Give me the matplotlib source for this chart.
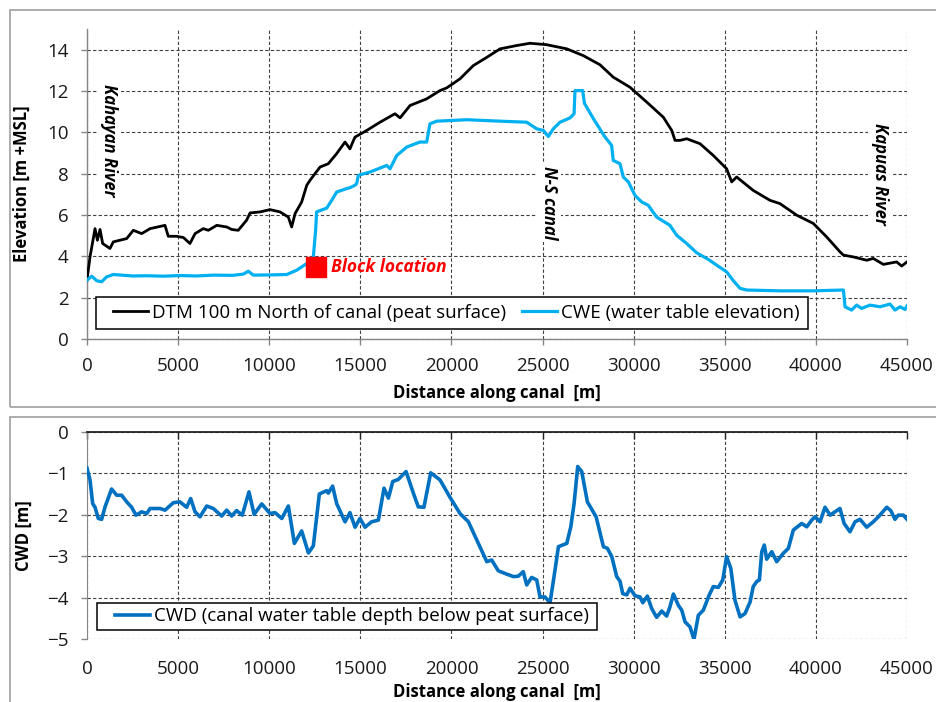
import numpy as np
import matplotlib
matplotlib.use("Agg")
import matplotlib.pyplot as plt
from matplotlib.patches import Rectangle

plt.rcParams['font.family'] = ['Open Sans', 'DejaVu Sans']

# Datos (distancia a lo largo del canal [m])
dtm_x = [0, 165, 440, 570, 715, 860, 1260, 1445, 1810, 2180, 2540, 3000, 3460, 4280, 4460,
         4920, 5290, 5650, 5930, 6380, 6660, 7120, 7670, 7940, 8300, 8760, 8950, 9500, 10040,
         10590, 11050, 11230, 11420, 11780, 12060, 12240, 12510, 12790, 13240, 13700, 14160,
         14430, 14620, 14710, 15350, 16080, 16900, 17180, 17730, 18640, 19370, 19740, 20470,
         21200, 21940, 22670, 23580, 24310, 25230, 26330, 27240, 28150, 28880, 29800, 30720,
         31630, 32090, 32270, 32540, 32910, 33640, 34370, 35100, 35380, 35650, 36560, 37480,
         38030, 38950, 39860, 40590, 41320, 41510, 42060, 42790, 43150, 43700, 44430, 44710, 45000]
dtm_y = [2.85, 3.97, 5.34, 4.78, 5.3, 4.62, 4.38, 4.7, 4.78, 4.86, 5.26, 5.1, 5.34, 5.5, 4.97,
         4.97, 4.91, 4.62, 5.1, 5.34, 5.26, 5.5, 5.42, 5.3, 5.26, 5.75, 6.1, 6.15, 6.26,
         6.15, 5.9, 5.42, 6.07, 6.63, 7.44, 7.68, 8.0, 8.32, 8.48, 8.97, 9.53,
         9.2, 9.6, 9.77, 10.09, 10.49, 10.9, 10.7, 11.3, 11.62, 12.02, 12.15, 12.59,
         13.23, 13.63, 14.04, 14.2, 14.31, 14.24, 14.04, 13.71, 13.27, 12.67, 12.18, 11.46,
         10.73, 10.09, 9.61, 9.61, 9.69, 9.45, 8.88, 8.24, 7.6, 7.84, 7.19, 6.71,
         6.55, 5.99, 5.59, 4.94, 4.22, 4.06, 3.97, 3.81, 3.9, 3.61, 3.73, 3.53, 3.73]

cwe_x = [0, 260, 530, 805, 1080, 1445, 2500, 3270, 4200, 5100, 6000, 6930, 8000, 8580, 8850,
         9130, 10000, 10960, 11510, 12060, 12420, 12550, 12600, 13150, 13430, 13700, 14250,
         14430, 14710, 14800, 14890, 15530, 16450, 16630, 17000, 17550, 18270, 18640, 18820,
         19190, 20840, 22670, 24130, 24680, 25040, 25320, 25590, 25960, 26510, 26730, 26780,
         27200, 27300, 27790, 28430, 28790, 28880, 29250, 29430, 29710, 30070, 30440, 30800,
         31260, 31990, 32360, 32910, 33460, 34100, 34560, 35100, 35470, 35840, 36200, 38030,
         39860, 41510, 41600, 41960, 42240, 42510, 42970, 43520, 44070, 44340, 44620, 44890, 45000]
cwe_y = [2.85, 3.04, 2.82, 2.77, 3.01, 3.12, 3.05, 3.06, 3.04, 3.07, 3.05, 3.09, 3.08, 3.14, 3.28,
         3.09, 3.1, 3.12, 3.33, 3.65, 3.97, 5.3, 6.15, 6.33, 6.71, 7.11, 7.28,
         7.32, 7.44, 7.52, 7.92, 8.08, 8.4, 8.24, 8.88, 9.29, 9.53, 9.53, 10.41,
         10.54, 10.61, 10.54, 10.49, 10.17, 10.09, 9.8, 10.17, 10.49, 10.7, 10.9, 12.02,
         12.02, 11.4, 10.66, 9.77, 9.37, 8.64, 8.48, 7.84, 7.6, 6.95, 6.63, 6.47,
         5.9, 5.5, 5.02, 4.62, 4.17, 3.85, 3.57, 3.25, 2.82, 2.45, 2.37, 2.33,
         2.33, 2.37, 1.56, 1.4, 1.64, 1.48, 1.64, 1.56, 1.69, 1.4, 1.56, 1.43, 1.6]

cwd_x = [0, 165, 310, 440, 620, 805, 990, 1350, 1630, 1900, 2180, 2450, 2690, 3000, 3280, 3460,
         4010, 4280, 4740, 5100, 5470, 5690, 5930, 6200, 6570, 6930, 7390, 7670, 7940, 8210,
         8520, 8890, 9170, 9590, 10040, 10320, 10690, 11050, 11380, 11780, 12150, 12420, 12750,
         13150, 13240, 13480, 13700, 14160, 14430, 14710, 14980, 15260, 15620, 15990, 16300,
         16540, 16780, 17080, 17510, 17910, 18180, 18490, 18860, 19370, 19920, 20470, 20930,
         21390, 21940, 22210, 22570, 23030, 23400, 23670, 23940, 24130, 24400, 24680, 24860,
         25130, 25410, 25630, 25870, 26330, 26550, 26730, 26930, 27150, 27460, 27940, 28340,
         28560, 28800, 29070, 29250, 29400, 29620, 29800, 30070, 30350, 30500, 30750, 30990,
         31260, 31540, 31810, 31990, 32180, 32450, 32640, 32820, 33090, 33310, 33550, 33820,
         34150, 34370, 34650, 34890, 35100, 35330, 35560, 35840, 36110, 36390, 36560, 36750,
         36900, 37030, 37170, 37300, 37580, 37850, 38210, 38490, 38760, 39220, 39500, 39770,
         39950, 40230, 40500, 40780, 41320, 41550, 41870, 42150, 42420, 42790, 43150, 43430,
         43890, 44110, 44340, 44520, 44800, 45000]
cwd_y = [-0.88, -1.16, -1.73, -1.82, -2.09, -2.11, -1.81, -1.38, -1.53, -1.53, -1.69, -1.82, -2.01,
         -1.93, -1.97, -1.85, -1.85, -1.89, -1.71, -1.69, -1.82, -1.61, -1.93, -2.05, -1.79, -1.85,
         -2.03, -1.89, -2.03, -1.9, -2.01, -1.45, -1.99, -1.74, -1.97, -1.95, -2.09, -1.79, -2.69,
         -2.39, -2.92, -2.75, -1.5, -1.42, -1.48, -1.31, -1.73, -2.17, -1.95, -2.3, -2.09, -2.3,
         -2.17, -2.13, -1.36, -1.6, -1.2, -1.15, -0.96, -1.48, -1.81, -1.82, -0.99, -1.16, -1.58,
         -1.97, -2.17, -2.61, -3.13, -3.09, -3.35, -3.43, -3.49, -3.48, -3.37, -3.69, -3.51, -3.57,
         -3.98, -3.98, -4.12, -3.49, -2.77, -2.69, -2.29, -1.73, -0.84, -0.96, -1.69, -2.05, -2.77,
         -2.81, -3.01, -3.49, -3.6, -3.9, -3.93, -3.77, -3.95, -3.98, -4.12, -3.96, -4.26,
         -4.47, -4.32, -4.44, -4.22, -3.91, -4.18, -4.3, -4.58, -4.7, -5.0, -4.42, -4.3,
         -3.93, -3.73, -3.75, -3.57, -3.01, -3.29, -4.06, -4.46, -4.38, -4.1, -3.73, -3.61,
         -3.57, -2.89, -2.73, -3.07, -2.89, -3.13, -2.93, -2.81, -2.37, -2.21, -2.29, -2.13,
         -2.05, -2.17, -1.82, -2.01, -1.85, -2.21, -2.41, -2.17, -2.11, -2.3, -2.17, -2.05,
         -1.82, -1.9, -2.11, -2.01, -2.01, -2.11]

block_x, block_y = 12550, 3.49

xticks = np.arange(0, 45001, 5000)
W, H = 936, 702

fig = plt.figure(figsize=(W / 100, H / 100), dpi=100)

# Marcos de los dos gráficos (estilo Excel)
for (x0, y0, x1, y1) in [(9.5, 9.5, 940, 406.5), (9.5, 416.5, 940, 710)]:
    fig.patches.append(Rectangle((x0 / W, 1 - y1 / H), (x1 - x0) / W, (y1 - y0) / H,
                                 transform=fig.transFigure, fill=False,
                                 edgecolor='#a6a6a6', linewidth=1.3))

grid_kw = dict(color='#404040', linestyle=(0, (3, 2)), linewidth=0.8)
tick_col = '#1a1a1a'
fs = 13.5


def legend_box(ax, x0, y0, x1, y1):
    # caja blanca de la leyenda, en pixeles de la figura
    ax.add_patch(Rectangle((x0 / W, 1 - y1 / H), (x1 - x0) / W, (y1 - y0) / H,
                           transform=fig.transFigure, facecolor='white',
                           edgecolor='black', linewidth=1.1, zorder=4.5, clip_on=False))


# ---------------- Panel superior ----------------
ax1 = fig.add_axes([87 / W, 1 - 339 / H, 820 / W, 310 / H])
ax1.plot(dtm_x, dtm_y, color='black', linewidth=2.0, solid_joinstyle='round',
         label='DTM 100 m North of canal (peat surface)', zorder=3)
ax1.plot(cwe_x, cwe_y, color='#00b0f0', linewidth=2.3, solid_joinstyle='round',
         label='CWE (water table elevation)', zorder=3)
ax1.plot([block_x], [block_y], 's', color='#ff0000', markersize=14.5, zorder=4)
ax1.text(13390, block_y, 'Block location', color='#ff0000', fontsize=12.5,
         fontweight='bold', fontstyle='italic', ha='left', va='center')

lab_kw = dict(rotation=-90, fontsize=12, fontweight='bold', fontstyle='italic',
              ha='center', va='center', zorder=2,
              bbox=dict(facecolor='white', edgecolor='none', pad=2))
ax1.text(1207, 9.6, 'Kahayan River', **lab_kw)
ax1.text(25355, 6.6, 'N-S canal', **lab_kw)
ax1.text(43520, 8.0, 'Kapuas River', **lab_kw)

ax1.set_xlim(0, 45000)
ax1.set_ylim(0, 15)
ax1.set_xticks(xticks)
ax1.set_yticks(np.arange(0, 15, 2))
ax1.grid(True, **grid_kw)
ax1.set_axisbelow(True)
for s in ['top', 'right']:
    ax1.spines[s].set_visible(False)
for s in ['left', 'bottom']:
    ax1.spines[s].set_color('#868686')
    ax1.spines[s].set_linewidth(1.0)
ax1.tick_params(axis='both', direction='out', length=4.3, width=1.0, color='#868686',
                labelsize=fs, labelcolor=tick_col, pad=9)
ax1.set_xlabel('Distance along canal  [m]', fontsize=12, fontweight='bold')
ax1.set_ylabel('Elevation [m +MSL]', fontsize=12, fontweight='bold')
ax1.xaxis.set_label_coords(0.5, -0.145)
ax1.yaxis.set_label_coords(-0.068, 0.5)

legend_box(ax1, 96, 296.7, 808, 329.3)
ax1.legend(loc='center left', bbox_to_anchor=(113 / W, 1 - 313 / H),
           bbox_transform=fig.transFigure, ncol=2, fontsize=fs, frameon=False,
           borderaxespad=0, borderpad=0, handlelength=1.87, handletextpad=0.2,
           columnspacing=0.85)

# ---------------- Panel inferior ----------------
ax2 = fig.add_axes([87 / W, 1 - 639.3 / H, 820 / W, 207.6 / H])
ax2.plot(cwd_x, cwd_y, color='#0070c0', linewidth=2.6, solid_joinstyle='round',
         label='CWD (canal water table depth below peat surface)', zorder=3)
ax2.set_xlim(0, 45000)
ax2.set_ylim(-5, 0)
ax2.set_xticks(xticks)
ax2.set_yticks(np.arange(-5, 1, 1))
ax2.grid(True, **grid_kw)
ax2.set_axisbelow(True)
for s in ['bottom', 'right']:
    ax2.spines[s].set_visible(False)
ax2.spines['top'].set_color('#222222')
ax2.spines['top'].set_linewidth(1.3)
ax2.spines['left'].set_color('#868686')
ax2.tick_params(axis='x', bottom=False, top=True, direction='in', length=5, width=1.0,
                color='#222222', labelbottom=True, labeltop=False,
                labelsize=fs, labelcolor=tick_col, pad=15)
ax2.tick_params(axis='y', direction='out', length=4.3, width=1.0, color='#868686',
                labelsize=fs, labelcolor=tick_col, pad=9)
ax2.set_xlabel('Distance along canal  [m]', fontsize=12, fontweight='bold')
ax2.set_ylabel('CWD [m]', fontsize=12, fontweight='bold')
ax2.xaxis.set_label_coords(0.5, -0.21)
ax2.yaxis.set_label_coords(-0.066, 0.5)

legend_box(ax2, 96.7, 602.7, 596.7, 630)
ax2.legend(loc='center left', bbox_to_anchor=(115 / W, 1 - 616.3 / H),
           bbox_transform=fig.transFigure, fontsize=fs, frameon=False,
           borderaxespad=0, borderpad=0, handlelength=1.87, handletextpad=0.2)

fig.savefig('out.png', dpi=100)
